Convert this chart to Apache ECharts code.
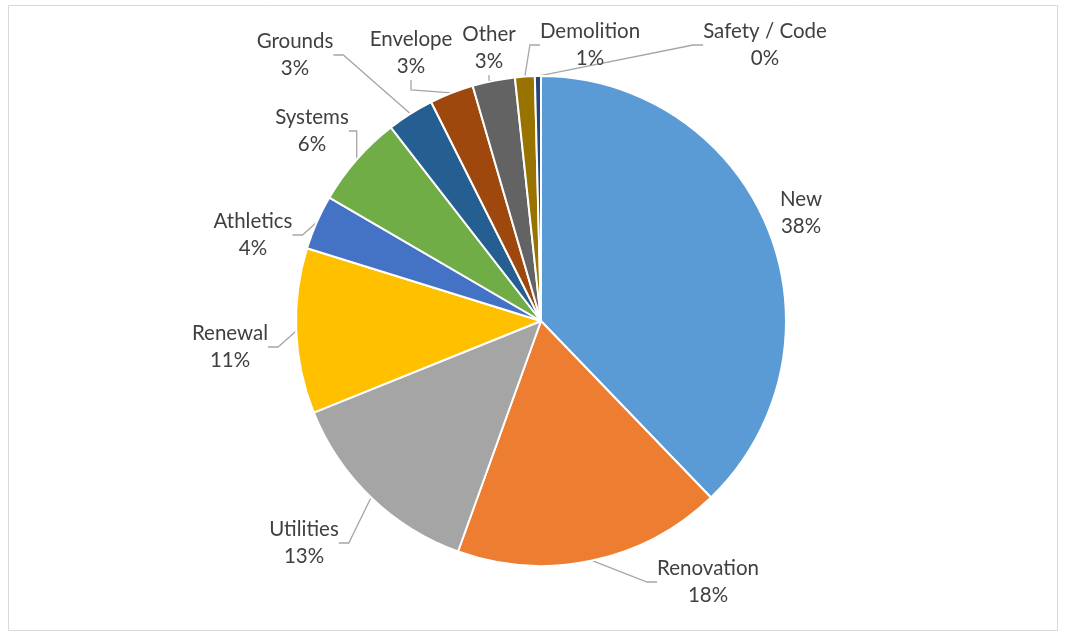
<!DOCTYPE html>
<html>
<head>
<meta charset="utf-8">
<script src="https://cdn.jsdelivr.net/npm/echarts@6/dist/echarts.min.js"></script>
<style>
  html, body { margin: 0; padding: 0; background: #fff; }
  #chart { width: 1065px; height: 634px; }
</style>
</head>
<body>
<div id="chart"></div>
<script>
// Project categories and their share of the total (percent)
const categories = ['New', 'Renovation', 'Utilities', 'Renewal', 'Athletics', 'Systems',
                    'Grounds', 'Envelope', 'Other', 'Demolition', 'Safety / Code'];
const shares = [37.8, 17.7, 13.4, 10.9, 3.6, 6.1, 3.1, 2.9, 2.8, 1.3, 0.4];
const colors = ['#5B9BD5', '#ED7D31', '#A5A5A5', '#FFC000', '#4472C4', '#70AD47',
                '#255E91', '#9E480E', '#636363', '#997300', '#264478'];

// Pie geometry
const pieCenter = [541, 321];
const pieRadius = 245;

// Where each label block sits, measured from the pie centre
const labelOffsets = {
  'New': [260, -108],
  'Renovation': [167, 261],
  'Utilities': [-237, 222],
  'Renewal': [-311, 26],
  'Athletics': [-288, -86],
  'Systems': [-229, -190],
  'Grounds': [-246, -266],
  'Envelope': [-130, -268],
  'Other': [-52, -273],
  'Demolition': [49, -276],
  'Safety / Code': [224, -276]
};
// Labels that sit close enough to their slice to need no leader line
const noLeader = ['New'];

const chart = echarts.init(document.getElementById('chart'), null, { renderer: 'canvas' });

const seriesData = categories.map((name, i) => ({
  name: name,
  value: shares[i],
  itemStyle: { color: colors[i] },
  labelLine: { show: noLeader.indexOf(name) < 0 }
}));

chart.setOption({
  animation: false,
  backgroundColor: '#ffffff',
  graphic: [{
    type: 'rect',
    shape: { x: 8.5, y: 5.5, width: 1049, height: 625 },
    style: { fill: 'none', stroke: '#d9d9d9', lineWidth: 1 },
    silent: true
  }],
  series: [{
    type: 'pie',
    center: pieCenter,
    radius: pieRadius,
    startAngle: 90,
    clockwise: true,
    percentPrecision: 0,
    avoidLabelOverlap: false,
    data: seriesData,
    itemStyle: { borderColor: '#ffffff', borderWidth: 2 },
    label: {
      show: true,
      position: 'outside',
      formatter: '{b}\n{d}%',
      fontFamily: 'Lato, "Open Sans", sans-serif',
      fontSize: 20.5,
      lineHeight: 27,
      color: '#404040',
      align: 'center'
    },
    labelLine: {
      show: true,
      length: 10,
      length2: 10,
      lineStyle: { color: '#a6a6a6', width: 1.3 }
    },
    labelLayout: function (params) {
      const off = labelOffsets[categories[params.dataIndex]];
      return {
        x: pieCenter[0] + off[0],
        y: pieCenter[1] + off[1],
        align: 'center',
        verticalAlign: 'middle'
      };
    }
  }]
});
</script>
</body>
</html>
